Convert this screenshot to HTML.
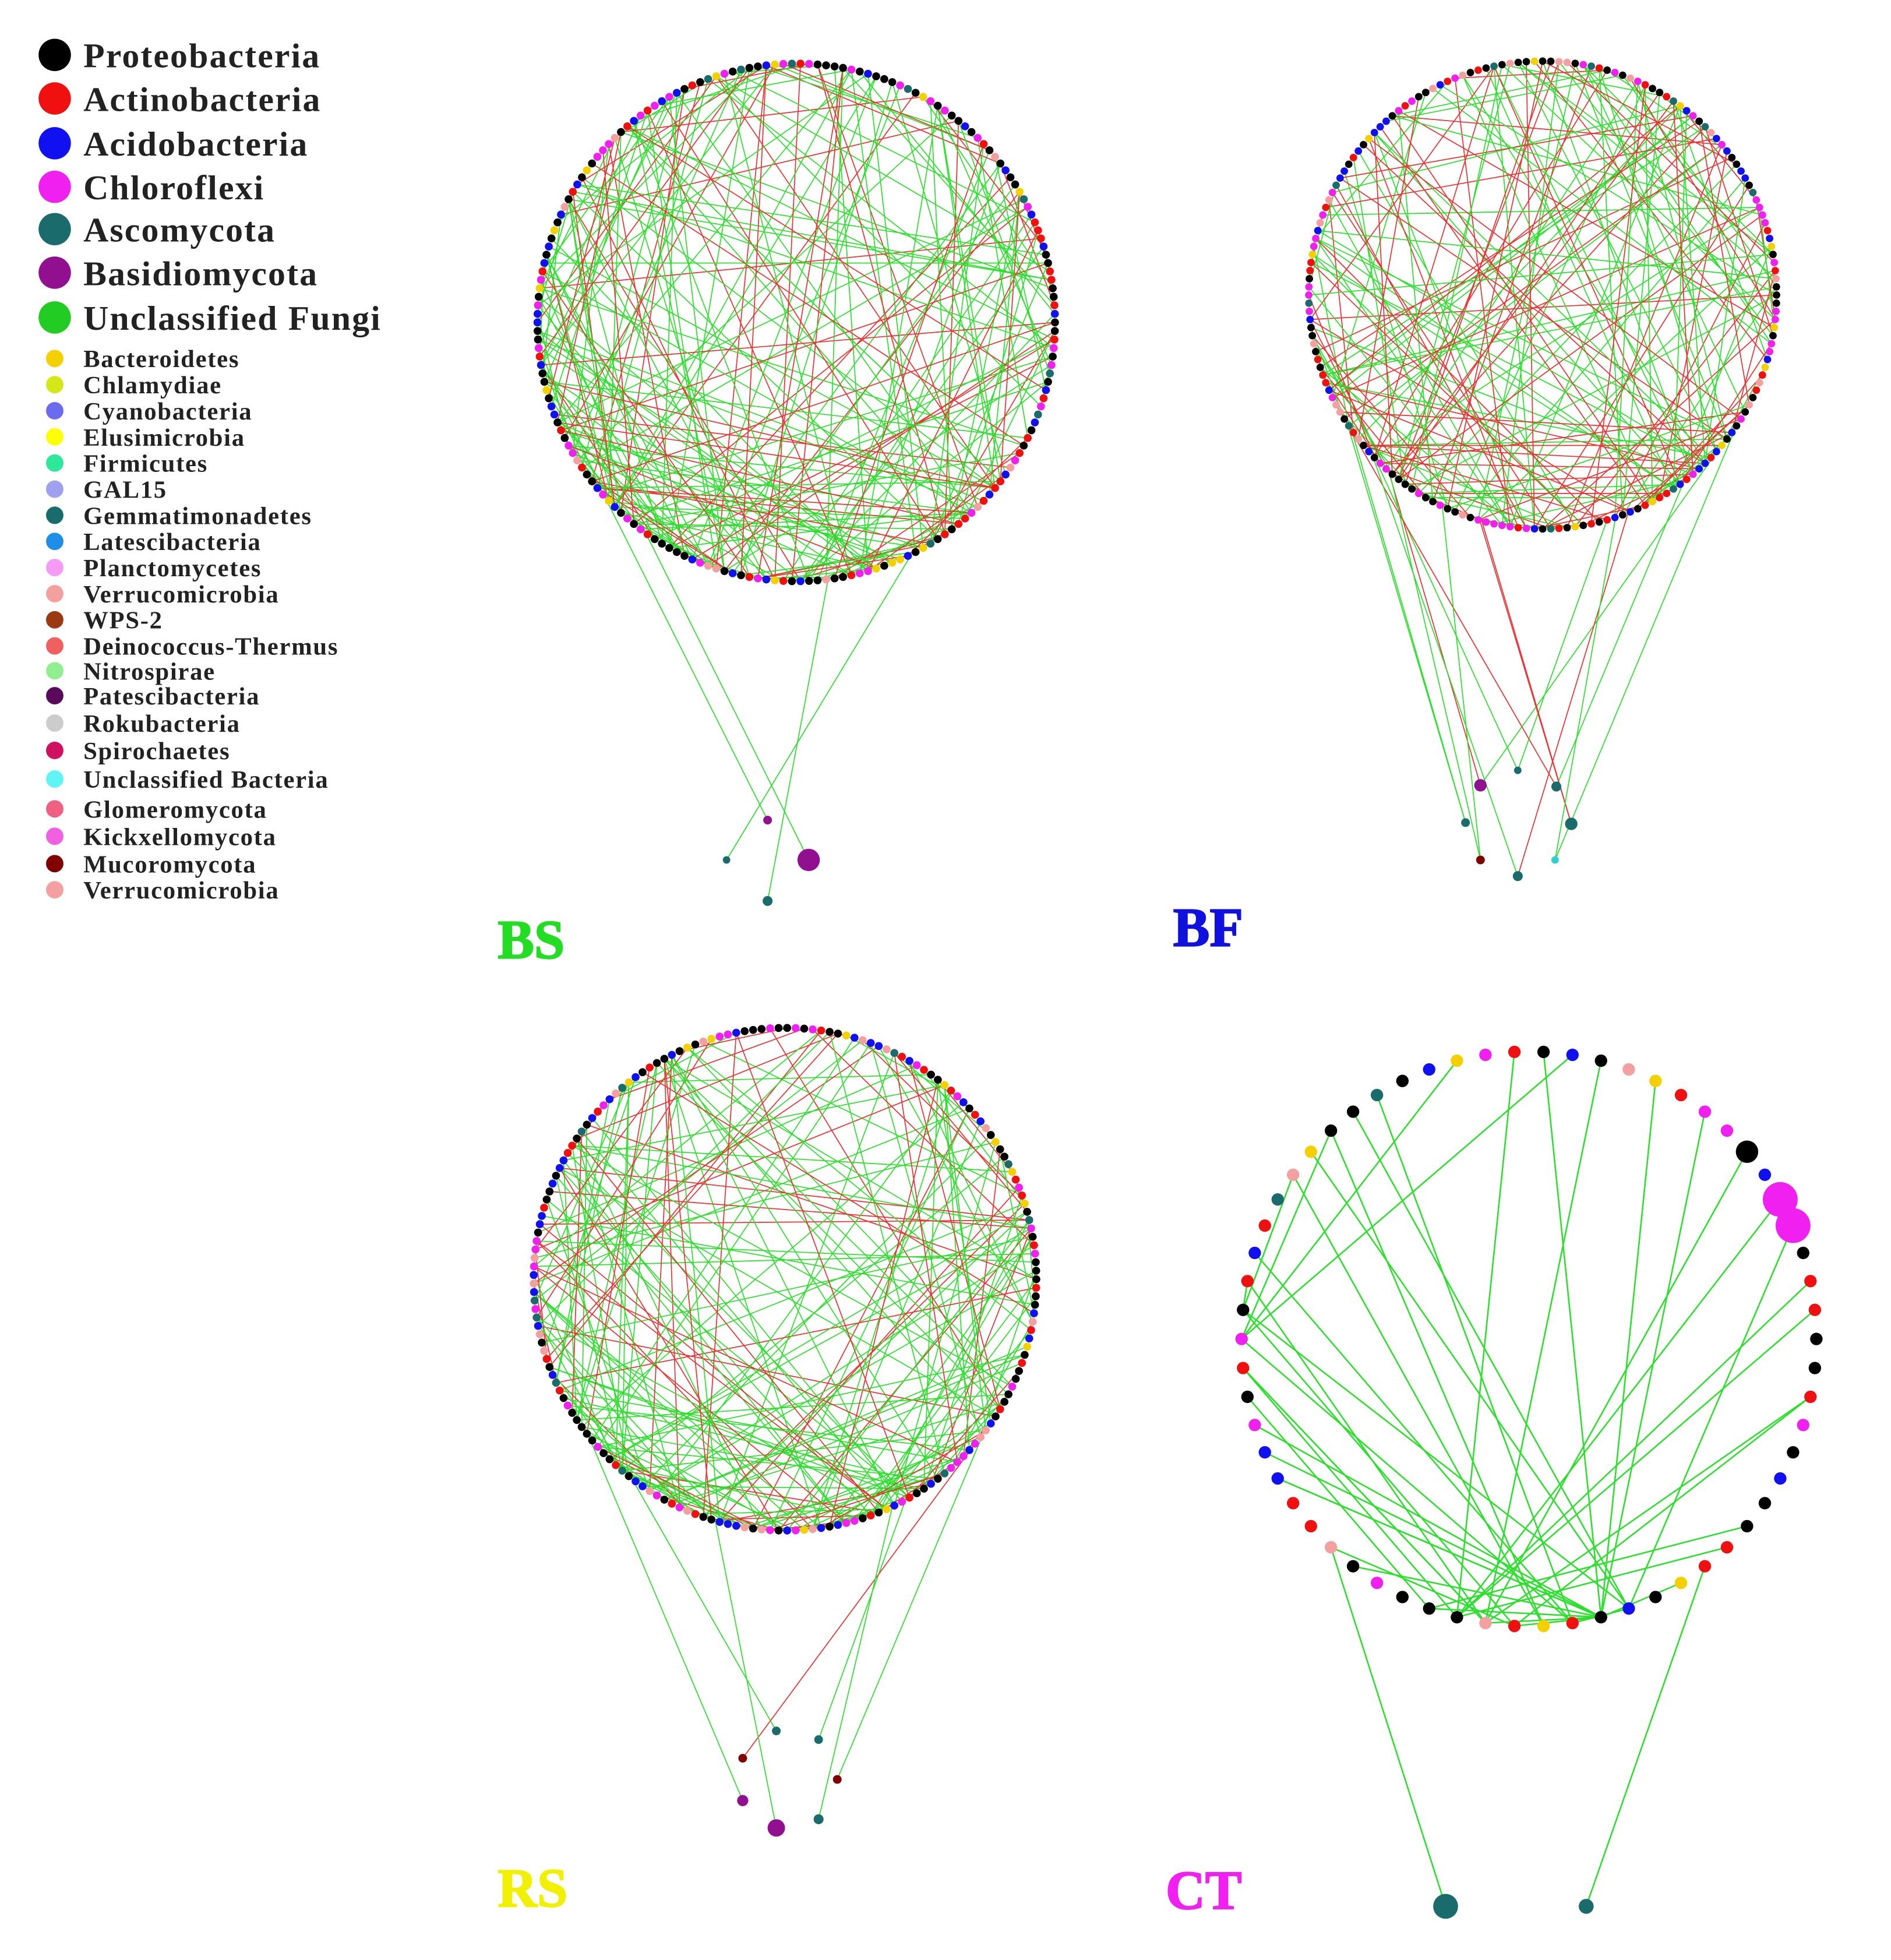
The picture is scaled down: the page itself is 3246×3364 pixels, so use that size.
<!DOCTYPE html>
<html><head><meta charset="utf-8"><style>
html,body{margin:0;padding:0;background:#fff;}
svg{display:block;}
.lt{font-family:"Liberation Serif",serif;font-weight:bold;fill:#222;}
</style></head><body>
<svg id="s" xmlns="http://www.w3.org/2000/svg" width="3246" height="3364" viewBox="0 0 1520 1575">
<rect width="1520" height="1575" fill="#fff"/>
<g id="legend"></g>
<g id="net"></g>
<text x="400" y="770" font-family="Liberation Serif,serif" font-weight="bold" font-size="44" fill="#22dd22" stroke="#22dd22" stroke-width="1">BS</text>
<text x="943" y="760" font-family="Liberation Serif,serif" font-weight="bold" font-size="44" fill="#1010e0" stroke="#1010e0" stroke-width="1">BF</text>
<text x="400" y="1532" font-family="Liberation Serif,serif" font-weight="bold" font-size="44" fill="#f0f000" stroke="#f0f000" stroke-width="1">RS</text>
<text x="937" y="1534" font-family="Liberation Serif,serif" font-weight="bold" font-size="44" fill="#f020f0" stroke="#f020f0" stroke-width="1">CT</text>
</svg>
<script>
var NS="http://www.w3.org/2000/svg";
function el(p,t,a){var e=document.createElementNS(NS,t);for(var k in a)e.setAttribute(k,a[k]);p.appendChild(e);return e;}
var L=document.getElementById("legend"),N=document.getElementById("net");
var big=[["Proteobacteria","#000"],["Actinobacteria","#f01010"],["Acidobacteria","#1010f0"],["Chloroflexi","#f020f0"],["Ascomycota","#1a6b6b"],["Basidiomycota","#901090"],["Unclassified Fungi","#22cc22"]];
var by=[44,79,115,150,184,219,255];
big.forEach(function(b,i){el(L,"circle",{cx:44,cy:by[i],r:13,fill:b[1]});var t=el(L,"text",{x:67,y:by[i]+10,"font-size":28,"letter-spacing":"1","class":"lt"});t.textContent=b[0];});
var sm=[["Bacteroidetes","#f5d000"],["Chlamydiae","#d4e817"],["Cyanobacteria","#6b6bef"],["Elusimicrobia","#ffff00"],["Firmicutes","#2de89b"],["GAL15","#a0a0f0"],["Gemmatimonadetes","#1a6b6b"],["Latescibacteria","#1e8fe8"],["Planctomycetes","#f59af5"],["Verrucomicrobia","#f4a0a0"],["WPS-2","#9b3a10"],["Deinococcus-Thermus","#f06060"],["Nitrospirae","#90f090"],["Patescibacteria","#5a0a5a"],["Rokubacteria","#cccccc"],["Spirochaetes","#d01060"],["Unclassified Bacteria","#60f5f5"],["Glomeromycota","#f06080"],["Kickxellomycota","#f060e0"],["Mucoromycota","#800000"],["Verrucomicrobia","#f4a0a0"]];
var sy=[288,309,330,351,372,393,414,435,456,477,498,519,539,559,581,603,626,650,672,694,715];
sm.forEach(function(b,i){el(L,"circle",{cx:44,cy:sy[i],r:7,fill:b[1]});var t=el(L,"text",{x:67,y:sy[i]+7,"font-size":20,"letter-spacing":"0.8","class":"lt"});t.textContent=b[0];});
var seed=12345;function R(){seed=(seed*1103515245+12345)%2147483648;return seed/2147483648;}
var pal=["#000","#000","#000","#000","#000","#f01010","#f01010","#f01010","#1010f0","#1010f0","#1010f0","#f020f0","#f020f0","#f020f0","#1a6b6b","#f5d000","#f4a0a0"];
var G="#2be02b",RD="#ee3030";
function net(cx,cy,r,n,nr,edges,redFrac,outer,outEdges){
 var eg=el(N,"g",{}),ng=el(N,"g",{});var pts=[];
 for(var i=0;i<n;i++){var a=i/n*2*Math.PI;pts.push([cx+r*Math.cos(a),cy+r*Math.sin(a)]);}
 for(var k=0;k<edges;k++){var i=Math.floor(R()*n),j=Math.floor(R()*n);
  if(R()<0.45){j=Math.floor(n*(0.1+0.35*R()));}
  el(eg,"line",{x1:pts[i][0],y1:pts[i][1],x2:pts[j][0],y2:pts[j][1],stroke:R()<redFrac?RD:G,"stroke-width":0.8});}
 outer.forEach(function(o){for(var q=0;q<outEdges;q++){var a=(0.15+0.7*R())*Math.PI;el(eg,"line",{x1:o[0],y1:o[1],x2:cx+r*Math.cos(a),y2:cy+r*Math.sin(a),stroke:R()<redFrac?RD:G,"stroke-width":0.8});}});
 pts.forEach(function(p){el(ng,"circle",{cx:p[0],cy:p[1],r:nr,fill:pal[Math.floor(R()*pal.length)]});});
 outer.forEach(function(o){el(ng,"circle",{cx:o[0],cy:o[1],r:o[2],fill:o[3]});});
}
var T="#1a6b6b";
net(640,259,208,190,3.2,240,0.3,[[584,691,3,T],[617,724,4,T],[617,659,3.5,"#901090"],[650,691,9,"#901090"]],1);
net(1240,237,188,180,3,200,0.4,[[1190,631,5,"#901090"],[1220,619,3,T],[1251,632,4,T],[1178,661,3.5,T],[1263,662,5,T],[1190,691,3.5,"#800000"],[1220,704,4,T],[1250,691,3,"#30d0d0"]],2);
net(631,1028,202,185,3.2,220,0.3,[[624,1391,3.5,T],[658,1398,3.5,T],[597,1413,3.5,"#800000"],[673,1430,3.5,"#800000"],[597,1447,4.5,"#901090"],[658,1462,4,T],[624,1469,7,"#901090"]],1);
(function(){var cx=1229,cy=1076,r=231,n=62,eg=el(N,"g",{}),ng=el(N,"g",{}),pts=[];
 for(var i=0;i<n;i++){var a=i/n*2*Math.PI;pts.push([cx+r*Math.cos(a),cy+r*Math.sin(a)]);}
 for(var k=0;k<45;k++){var i=Math.floor(R()*n);var j=Math.floor(n*(0.2+0.12*R()));if(R()<0.3)j=Math.floor(n*(0.5+0.04*R()));
  el(eg,"line",{x1:pts[i][0],y1:pts[i][1],x2:pts[j][0],y2:pts[j][1],stroke:G,"stroke-width":1.2});}
 el(eg,"line",{x1:1162,y1:1532,x2:pts[Math.floor(n*0.38)][0],y2:pts[Math.floor(n*0.38)][1],stroke:G,"stroke-width":1.2});
 el(eg,"line",{x1:1275,y1:1532,x2:pts[Math.floor(n*0.15)][0],y2:pts[Math.floor(n*0.15)][1],stroke:G,"stroke-width":1.2});
 pts.forEach(function(p,i){var rr=5;var c=pal[Math.floor(R()*pal.length)];if(i==57||i==58){rr=14;c="#f020f0";}if(i==55)rr=9;el(ng,"circle",{cx:p[0],cy:p[1],r:rr,fill:c});});
 el(ng,"circle",{cx:1162,cy:1532,r:10,fill:T});el(ng,"circle",{cx:1275,cy:1532,r:6,fill:T});
})();
</script>
</body></html>
